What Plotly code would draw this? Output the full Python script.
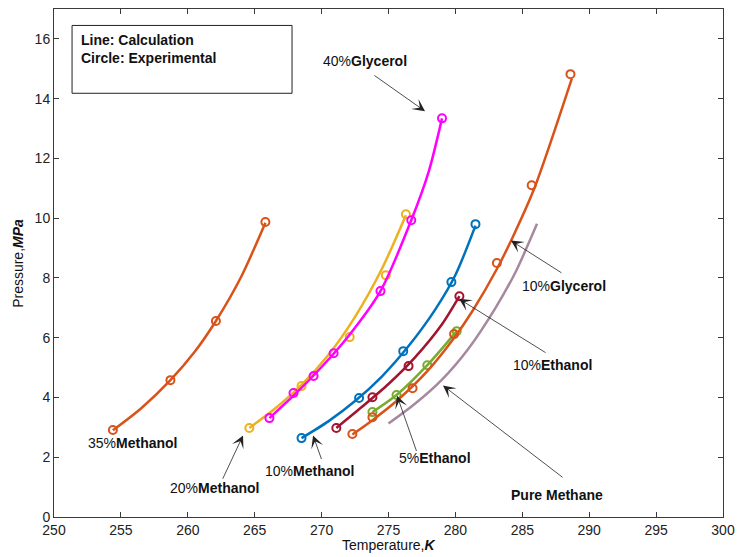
import plotly.graph_objects as go

# ---- Experimental hydrate equilibrium points (T in K, P in MPa) ----
meoh35_T = [254.4, 258.7, 262.1, 265.8]
meoh35_P = [2.91, 4.58, 6.56, 9.87]

meoh20_T = [264.6, 268.5, 272.1, 274.8, 276.3]
meoh20_P = [2.98, 4.38, 6.02, 8.09, 10.13]

gly40_T = [266.1, 267.9, 269.4, 270.9, 274.4, 276.7, 279.0]
gly40_P = [3.31, 4.15, 4.72, 5.48, 7.56, 9.93, 13.34]

meoh10_T = [268.5, 272.8, 276.1, 279.7, 281.5]
meoh10_P = [2.64, 3.98, 5.55, 7.86, 9.80]

etoh10_T = [271.1, 273.8, 276.5, 280.3]
etoh10_P = [2.98, 4.01, 5.05, 7.39]

etoh5_T = [273.8, 275.6, 277.9, 280.1]
etoh5_P = [3.51, 4.08, 5.08, 6.22]

gly10_T = [272.3, 273.8, 276.8, 279.9, 283.1, 285.7, 288.6]
gly10_P = [2.78, 3.34, 4.31, 6.12, 8.50, 11.10, 14.82]

# ---- Calculated equilibrium curves ----
meoh35_calc_T = [254.4, 256.5, 258.7, 260.5, 262.1, 264.0, 265.8]
meoh35_calc_P = [2.90, 3.63, 4.58, 5.52, 6.56, 8.05, 9.85]

meoh20_calc_T = [264.6, 266.5, 268.5, 270.5, 272.5, 274.5, 276.3]
meoh20_calc_P = [2.98, 3.62, 4.42, 5.42, 6.70, 8.30, 10.10]

gly40_calc_T = [266.1, 268.0, 270.0, 272.0, 274.4, 276.7, 278.0, 279.0]
gly40_calc_P = [3.31, 4.10, 5.02, 6.05, 7.56, 9.93, 11.55, 13.34]

meoh10_calc_T = [268.5, 270.5, 272.5, 274.5, 276.5, 278.5, 280.0, 281.5]
meoh10_calc_P = [2.64, 3.20, 3.88, 4.70, 5.72, 6.95, 8.10, 9.75]

etoh10_calc_T = [271.1, 273.0, 275.0, 277.0, 279.0, 280.3]
etoh10_calc_P = [2.98, 3.68, 4.45, 5.35, 6.45, 7.39]

etoh5_calc_T = [273.8, 275.6, 277.9, 280.1]
etoh5_calc_P = [3.51, 4.08, 5.08, 6.22]

gly10_calc_T = [272.3, 273.8, 275.6, 277.9, 279.9, 281.3, 283.1, 284.3, 285.9, 288.7]
gly10_calc_P = [2.76, 3.24, 3.88, 4.88, 5.99, 6.91, 8.30, 9.38, 11.00, 14.67]

methane_calc_T = [275.0, 277.0, 279.0, 281.0, 283.0, 284.5, 286.1]
methane_calc_P = [3.13, 3.80, 4.60, 5.65, 7.00, 8.20, 9.81]

# ---- x / y ticks ----
x_ticks = [250, 255, 260, 265, 270, 275, 280, 285, 290, 295, 300]
y_ticks = [0, 2, 4, 6, 8, 10, 12, 14, 16]

ORANGE = "#D95319"
YELLOW = "#EDB120"
BLUE = "#0072BD"
DARKRED = "#A2142F"
GREEN = "#77AC30"
MAGENTA = "#FF00FF"
MAUVE = "#A6899F"

FONT = "Liberation Sans, Arial, sans-serif"

series = [
    ("35% Methanol", meoh35_calc_T, meoh35_calc_P, meoh35_T, meoh35_P, ORANGE),
    ("20% Methanol", meoh20_calc_T, meoh20_calc_P, meoh20_T, meoh20_P, YELLOW),
    ("40% Glycerol", gly40_calc_T, gly40_calc_P, gly40_T, gly40_P, MAGENTA),
    ("10% Methanol", meoh10_calc_T, meoh10_calc_P, meoh10_T, meoh10_P, BLUE),
    ("10% Ethanol", etoh10_calc_T, etoh10_calc_P, etoh10_T, etoh10_P, DARKRED),
    ("5% Ethanol", etoh5_calc_T, etoh5_calc_P, etoh5_T, etoh5_P, GREEN),
    ("10% Glycerol", gly10_calc_T, gly10_calc_P, gly10_T, gly10_P, ORANGE),
]

fig = go.Figure()

fig.add_trace(go.Scatter(
    x=methane_calc_T, y=methane_calc_P, mode="lines", name="Pure Methane",
    line=dict(color=MAUVE, width=2.5, shape="spline", smoothing=0.8),
    showlegend=False,
))

for name, cT, cP, eT, eP, col in series:
    fig.add_trace(go.Scatter(
        x=cT, y=cP, mode="lines", name=name + " (calc)",
        line=dict(color=col, width=2.5, shape="spline", smoothing=0.8),
        showlegend=False,
    ))
    fig.add_trace(go.Scatter(
        x=eT, y=eP, mode="markers", name=name + " (exp)",
        marker=dict(symbol="circle-open", size=8, color=col,
                    line=dict(width=2, color=col)),
        showlegend=False,
    ))

# Labels: (text, label x, label y, arrow tail x, tail y, head x, head y)
labels = [
    ("40%<b>Glycerol</b>", 273.28, 15.25, 273.84, 14.81, 277.73, 13.58),
    ("35%<b>Methanol</b>", 255.9, 2.49, None, None, None, None),
    ("20%<b>Methanol</b>", 262.03, 0.96, 262.56, 1.23, 264.13, 2.73),
    ("10%<b>Methanol</b>", 269.13, 1.53, 270.03, 1.89, 269.36, 2.73),
    ("5%<b>Ethanol</b>", 278.44, 1.96, 277.13, 2.16, 275.64, 4.06),
    ("10%<b>Glycerol</b>", 288.15, 7.74, 288.04, 8.14, 284.15, 9.25),
    ("10%<b>Ethanol</b>", 287.26, 5.10, 286.85, 5.47, 280.27, 7.30),
    ("<b>Pure Methane</b>", 287.56, 0.74, 288.12, 1.29, 279.07, 4.40),
]

for text, lx, ly, tx, ty, hx, hy in labels:
    fig.add_annotation(x=lx, y=ly, xref="x", yref="y", text=text,
                       showarrow=False, xanchor="center", yanchor="middle",
                       font=dict(family=FONT, size=14, color="#111111"))
    if tx is not None:
        fig.add_annotation(x=hx, y=hy, ax=tx, ay=ty, xref="x", yref="y",
                           axref="x", ayref="y", text="", showarrow=True,
                           arrowhead=3, arrowsize=2.6, arrowwidth=0.8,
                           arrowcolor="#222222", standoff=0)

# Key box
fig.add_shape(type="rect", xref="x", yref="y", x0=251.35, x1=267.79,
              y0=14.18, y1=16.45, line=dict(color="#222222", width=1),
              fillcolor="white")
fig.add_annotation(x=251.9, y=16.3, xref="x", yref="y",
                   text="<b>Line: Calculation</b><br><b>Circle: Experimental</b>",
                   showarrow=False, xanchor="left", yanchor="top", align="left",
                   font=dict(family=FONT, size=14, color="#111111"))

# Axis titles
fig.add_annotation(x=0.5, y=-0.055, xref="paper", yref="paper",
                   text="Temperature,<b><i>K</i></b>", showarrow=False,
                   xanchor="center", yanchor="middle",
                   font=dict(family=FONT, size=14, color="#111111"))
fig.add_annotation(x=-0.054, y=0.5, xref="paper", yref="paper",
                   text="Pressure,<b><i>MPa</i></b>", showarrow=False,
                   textangle=-90, xanchor="center", yanchor="middle",
                   font=dict(family=FONT, size=14, color="#111111"))

axis_common = dict(showline=True, linecolor="#3a3a3a", linewidth=1,
                   mirror="ticks", ticks="inside", ticklen=5, tickwidth=1,
                   tickcolor="#3a3a3a", showgrid=False, zeroline=False,
                   automargin=False,
                   tickfont=dict(family=FONT, size=14, color="#222222"))

fig.update_xaxes(range=[250, 300], tickvals=x_ticks, **axis_common)
fig.update_yaxes(range=[0, 17], tickvals=y_ticks, **axis_common)

fig.update_layout(
    width=738, height=557,
    margin=dict(l=54, r=15, t=9, b=40),
    plot_bgcolor="white", paper_bgcolor="white",
    showlegend=False,
)

fig.write_html("out.html")
